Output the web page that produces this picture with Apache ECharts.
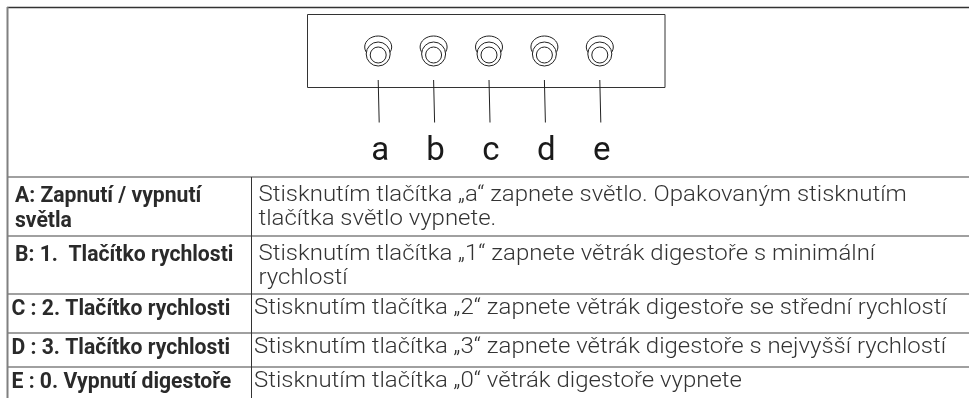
<!DOCTYPE html>
<html>
<head>
<meta charset="utf-8">
<style>html,body{margin:0;padding:0;background:#fff}#main{width:969px;height:398px}</style>
<script src="https://cdn.jsdelivr.net/npm/echarts@6/dist/echarts.min.js"></script>
</head>
<body>
<div id="main"></div>
<script>
var buttons = ['a', 'b', 'c', 'd', 'e'];
var buttonRow = [1, 1, 1, 1, 1];
var rowTitles = [
	['A: Zapnutí / vypnutí', 'světla'],
	['B: 1.  Tlačítko rychlosti'],
	['C : 2. Tlačítko rychlosti'],
	['D : 3. Tlačítko rychlosti'],
	['E : 0. Vypnutí digestoře']
];
var rowTexts = [
	['Stisknutím tlačítka „a“ zapnete světlo. Opakovaným stisknutím', 'tlačítka světlo vypnete.'],
	['Stisknutím tlačítka „1“ zapnete větrák digestoře s minimální', 'rychlostí'],
	['Stisknutím tlačítka „2“ zapnete větrák digestoře se střední rychlostí'],
	['Stisknutím tlačítka „3“ zapnete větrák digestoře s nejvyšší rychlostí'],
	['Stisknutím tlačítka „0“ větrák digestoře vypnete']
];
var rowLines = [177, 236, 294, 333, 367];
var titleX = [15, 15, 11.5, 11.5, 11.5];
var textX = [258.5, 258.5, 254, 254, 254];
var textY = [195, 254, 308, 347.5, 381.5];

var myChart = echarts.init(document.getElementById('main'), null, {renderer: 'canvas'});
var graphics = [];

function hline(y) {
	graphics.push({type: 'line', shape: {x1: 7, y1: y, x2: 969, y2: y}, style: {stroke: '#808080', lineWidth: 1.5}});
}
function addText(t, x, y, size, weight, color, sx) {
	graphics.push({type: 'text', x: x, y: y, scaleX: sx, style: {
		text: t, fontSize: size, fontWeight: weight, fontFamily: 'Roboto', fill: color, verticalAlign: 'middle'
	}});
}

graphics.push({type: 'line', shape: {x1: 7, y1: 7.5, x2: 969, y2: 7.5}, style: {stroke: '#333', lineWidth: 1.5}});
graphics.push({type: 'line', shape: {x1: 7.5, y1: 7, x2: 7.5, y2: 398}, style: {stroke: '#808080', lineWidth: 2}});
rowLines.forEach(hline);
graphics.push({type: 'line', shape: {x1: 251.5, y1: 177, x2: 251.5, y2: 398}, style: {stroke: '#333', lineWidth: 1}});
graphics.push({type: 'rect', shape: {x: 307.5, y: 14.5, width: 357.5, height: 73}, style: {fill: 'none', stroke: '#333', lineWidth: 1}});

rowTitles.forEach(function (lines, i) {
	lines.forEach(function (t, j) {
		addText(t, titleX[i], textY[i] + 1 + j * 25, 22.5, 'bold', '#2a2a2a', 0.94);
	});
});
rowTexts.forEach(function (lines, i) {
	lines.forEach(function (t, j) {
		addText(t, textX[i], textY[i] + j * 24.5, 22, 300, '#333', 1.09);
	});
});

var option = {
	animation: false,
	backgroundColor: '#fff',
	grid: {left: 350.5, width: 277, top: 30, height: 99},
	xAxis: {
		type: 'category', data: buttons, position: 'bottom',
		axisLine: {show: false}, axisTick: {show: false},
		axisLabel: {color: '#1a1a1a', fontSize: 33, fontFamily: 'Roboto', margin: 6, padding: [0, 0, 0, 4]}
	},
	yAxis: {type: 'value', min: 0, max: 1, show: false},
	graphic: {elements: graphics},
	series: [
		{
			type: 'custom',
			data: buttonRow,
			silent: true,
			z: 3,
			renderItem: function (params, api) {
				var x = api.coord([api.value(0), 0])[0];
				return {
					type: 'group',
					children: [
						{type: 'line', shape: {x1: x, y1: 80, x2: x + 1, y2: 122.5}, style: {stroke: '#222', lineWidth: 1}},
						{type: 'ellipse', shape: {cx: x, cy: 47, rx: 13.5, ry: 11}, style: {fill: '#fff', stroke: '#222', lineWidth: 1}},
						{type: 'circle', shape: {cx: x, cy: 54, r: 12}, style: {fill: '#fff', stroke: '#222', lineWidth: 1}},
						{type: 'circle', shape: {cx: x, cy: 55, r: 8}, style: {fill: '#fff', stroke: '#222', lineWidth: 1}}
					]
				};
			},
			encode: {x: 0, y: 1}
		}
	]
};
myChart.setOption(option);
</script>
</body>
</html>
